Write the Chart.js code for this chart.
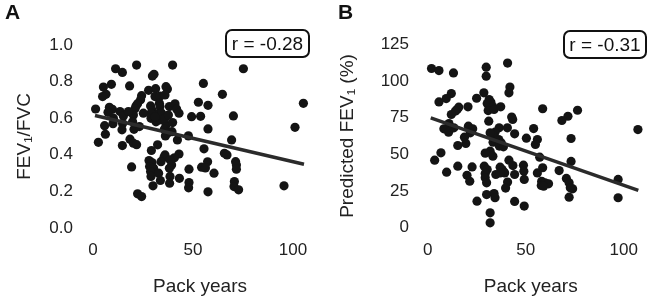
<!DOCTYPE html>
<html>
<head>
<meta charset="utf-8">
<script src="https://cdn.jsdelivr.net/npm/chart.js@4"></script>
<style>
  html, body { margin: 0; padding: 0; background: #fff; }
  body { width: 648px; height: 304px; position: relative; overflow: hidden; font-family: "Liberation Sans", Arial, sans-serif; color: #222; }
  .wrap { position: absolute; top: 0; width: 324px; height: 304px; }
  .panel { position: absolute; top: 0px; font-weight: bold; font-size: 21px; color: #111; }
  .rbox { position: absolute; border: 2px solid #111; border-radius: 7px; font-size: 19px; color: #111;
          box-sizing: border-box; text-align: center; line-height: 25px; }
</style>
</head>
<body>
<div class="wrap" style="left:0"><canvas id="cA" width="324" height="304"></canvas></div>
<div class="wrap" style="left:324px"><canvas id="cB" width="324" height="304"></canvas></div>
<div class="panel" style="left:5px">A</div>
<div class="panel" style="left:338px">B</div>
<div class="rbox" style="left:225px; top:29px; width:85px; height:29px;">r = -0.28</div>
<div class="rbox" style="left:563px; top:30px; width:84px; height:29px;">r = -0.31</div>
<script>
// ---- Panel A data: pack years vs FEV1/FVC ----
const packA = [11.3,14.7,21.8,39.8,75.2,29.7,30.5,5.2,9.2,18.3,6.5,4.8,27.8,31.3,36.5,37.2,55.2,64.7,24.3,23.8,31,33.5,36,52.7,57.5,105.2,1.3,8.2,9.7,7.5,13.5,15.2,21.5,22.3,21,28.8,33.2,29.7,33.5,38.2,41,41.8,43,49.3,53.8,70.2,5.8,10,14.8,20.2,19.8,20.5,29,32.3,29,33.2,31.5,36.5,35.7,37.2,39.8,39.5,57.5,101,6.2,2.7,14.5,18.5,20.2,21.8,14.7,32.3,36.2,37.2,42.2,47.7,69.3,55.5,29.2,36,35.5,43,40.7,65.7,67,28,29.5,28.3,30.3,28.8,29,32.8,34,38.5,39.3,38.2,57.3,54.3,56.2,60.5,48,71.3,71.7,71.7,19.3,33.7,38.5,38.3,43.2,30,48,47.8,70.7,70.5,72.8,57.5,95.5,22.3,24.3,10.2,25.2,34.3,36,17.7,31,37.7,23.2];
const fevFvcA = [0.87,0.85,0.89,0.89,0.87,0.83,0.84,0.77,0.785,0.776,0.73,0.718,0.752,0.761,0.772,0.76,0.79,0.73,0.723,0.70,0.718,0.721,0.727,0.687,0.67,0.681,0.65,0.659,0.648,0.632,0.636,0.612,0.667,0.679,0.652,0.667,0.681,0.641,0.663,0.663,0.678,0.65,0.627,0.608,0.61,0.612,0.559,0.57,0.57,0.617,0.58,0.539,0.599,0.621,0.627,0.59,0.58,0.563,0.539,0.526,0.576,0.526,0.541,0.55,0.512,0.468,0.536,0.485,0.463,0.455,0.45,0.454,0.503,0.517,0.481,0.503,0.481,0.432,0.423,0.399,0.386,0.404,0.383,0.408,0.399,0.368,0.357,0.335,0.326,0.308,0.281,0.299,0.362,0.372,0.344,0.326,0.361,0.332,0.328,0.299,0.321,0.362,0.344,0.321,0.333,0.259,0.281,0.244,0.271,0.23,0.248,0.219,0.253,0.226,0.208,0.197,0.23,0.186,0.171,0.60,0.627,0.627,0.60,0.636,0.608,0.617,0.554];
const fitPackA = [1, 105.5];
const fitFevFvcA = [0.614, 0.348];
const yTicksA = [0, 0.2, 0.4, 0.6, 0.8, 1.0];

// ---- Panel B data: pack years vs predicted FEV1 (%) ----
const packB = [1.9,5.7,13.1,29.8,29.8,40.7,41.9,41.4,12.0,9.4,5.7,28.6,24.9,31.3,32.2,30.3,33.2,30.8,33.8,37.2,15.0,15.8,14.1,20.5,58.6,76.4,71.5,68.4,10.8,8.2,10.6,13.3,43.3,42.8,31.1,20.7,22.9,21.7,18.7,36.4,40.6,54.0,107.2,73.1,44.3,34.3,33.3,33.3,36.2,37.5,36.5,38.6,50.3,55.9,54.9,19.4,15.3,31.8,29.3,33.2,6.7,3.5,57.1,41.4,43.4,48.8,73.1,36.9,37.9,38.9,34.7,39.2,36.9,28.8,30.3,29.3,29.3,30.0,15.3,22.6,20.0,21.4,9.6,44.3,49.0,49.2,55.9,58.6,67.0,70.7,72.1,73.9,72.7,58.1,57.9,59.8,61.6,59.1,40.7,39.7,30.0,33.8,34.3,25.1,44.3,49.2,72.1,97.1,97.1,31.8,31.8,12.0,31.8];
const predFev1B = [108.6,107.2,105.6,109.5,103.4,112.3,95.9,92.0,91.5,88.1,85.8,92.0,88.3,87.4,85.6,84.7,82.4,79.9,80.6,82.4,80.6,82.2,79.5,82.4,81.1,80.1,76.0,73.1,71.0,67.4,65.1,68.1,73.8,75.4,72.6,69.2,67.4,64.7,61.7,68.1,68.1,67.6,66.9,60.8,64.0,65.1,62.8,58.3,60.1,57.8,55.6,55.1,61.0,60.1,56.7,57.4,56.0,52.1,50.8,48.7,51.0,46.0,48.0,46.0,42.3,42.6,45.1,41.2,39.6,37.8,36.2,37.3,37.3,41.9,39.6,36.9,33.9,30.5,41.9,41.4,35.7,31.6,37.8,36.2,38.5,32.8,37.3,40.8,38.9,33.5,30.5,26.4,27.1,31.6,28.7,30.5,29.8,28.2,31.0,26.9,22.5,23.2,20.3,18.0,17.8,14.6,20.7,32.8,20.3,10.0,3.2,77.2,64.7];
const fitPackB = [1.5, 107.4];
const fitPredB = [74.9, 25.3];
const yTicksB = [0, 25, 50, 75, 100, 125];
const xTicks = [0, 50, 100];

Chart.defaults.font.family = '"Liberation Sans", Arial, sans-serif';
Chart.defaults.color = '#222';

function pts(xs, ys) { return xs.map((x, i) => ({ x: x, y: ys[i] })); }

function makeChart(id, cfg) {
  return new Chart(document.getElementById(id), {
    type: 'scatter',
    data: {
      datasets: [
        { type: 'line', data: pts(cfg.fitX, cfg.fitY), borderColor: '#2b2b2b', borderWidth: 3.5,
          pointRadius: 0, fill: false, order: 0, tension: 0 },
        { data: pts(cfg.xs, cfg.ys), backgroundColor: '#141414', borderWidth: 0,
          pointRadius: 4.6, pointHoverRadius: 4.6, order: 1 }
      ]
    },
    options: {
      responsive: false,
      animation: false,
      devicePixelRatio: 1,
      layout: { padding: { top: cfg.padTop, right: cfg.padRight, left: 0, bottom: 0 } },
      plugins: { legend: { display: false }, tooltip: { enabled: false } },
      scales: {
        x: {
          type: 'linear', min: cfg.xMin, max: cfg.xMax,
          grid: { display: false, drawTicks: false }, border: { display: false },
          afterBuildTicks: s => { s.ticks = xTicks.map(v => ({ value: v })); },
          afterFit: s => { s.height = 67; },
          ticks: { padding: 3, font: { size: 17 }, color: '#222' },
          title: { display: true, text: 'Pack years', font: { size: 19 }, color: '#222',
                   padding: { top: 0, bottom: 6 } }
        },
        y: {
          type: 'linear', min: cfg.yMin, max: cfg.yMax,
          grid: { display: false, drawTicks: false }, border: { display: false },
          afterBuildTicks: s => { s.ticks = cfg.yTicks.map(v => ({ value: v })); },
          afterFit: s => { s.width = cfg.yWidth; },
          ticks: { padding: cfg.yPad, font: { size: 17 }, color: '#222', callback: cfg.fmt },
          title: { display: true, text: cfg.yTitle, font: { size: 19 }, color: '#222',
                   padding: { top: cfg.titlePad, bottom: 0 } }
        }
      }
    }
  });
}

makeChart('cA', {
  xs: packA, ys: fevFvcA, fitX: fitPackA, fitY: fitFevFvcA,
  xMin: -5, xMax: 112, yMin: -0.05, yMax: 1.05, yTicks: yTicksA,
  yWidth: 83, yPad: 10, padTop: 35.85, padRight: 7, titlePad: 13,
  yTitle: 'FEV\u2081/FVC', fmt: v => Number(v).toFixed(1)
});
makeChart('cB', {
  xs: packB, ys: predFev1B, fitX: fitPackB, fitY: fitPredB,
  xMin: -5, xMax: 110, yMin: -6.5, yMax: 131.5, yTicks: yTicksB,
  yWidth: 94, yPad: 9, padTop: 35, padRight: 2.2, titlePad: 12,
  yTitle: 'Predicted FEV\u2081 (%)', fmt: v => String(v)
});
</script>
</body>
</html>
